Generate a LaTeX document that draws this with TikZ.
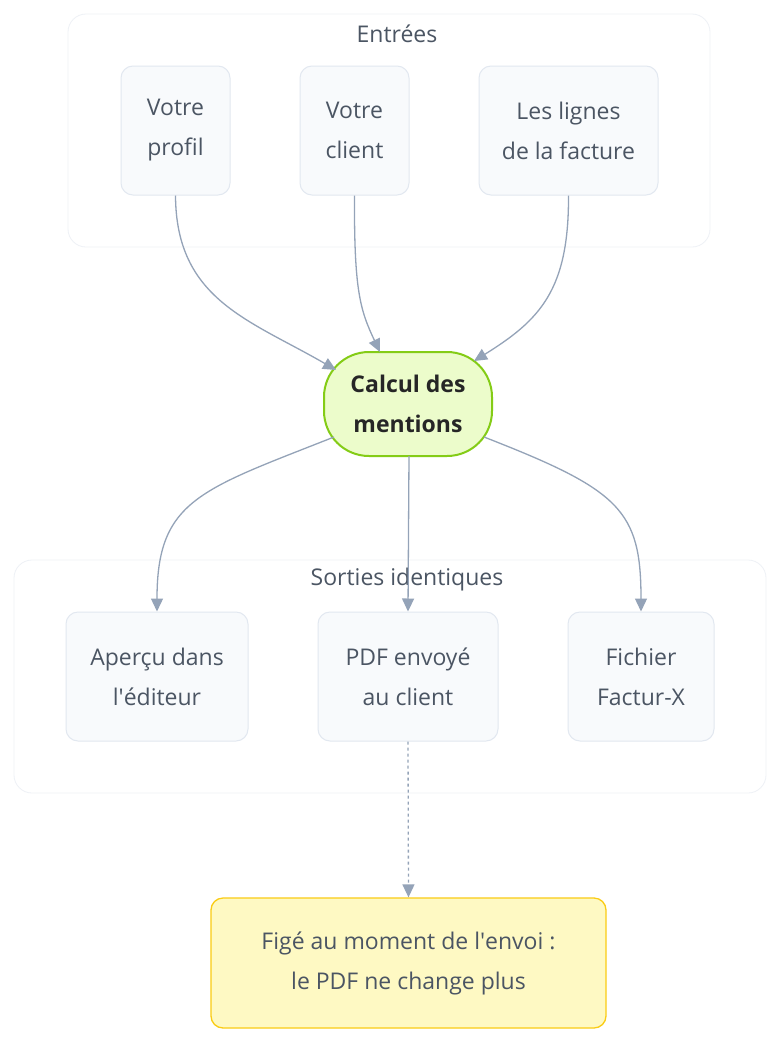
\documentclass[tikz,border=0pt]{standalone}
\usepackage{fontspec}
\setmainfont[Mapping=]{Open Sans}
\usetikzlibrary{arrows.meta}
\definecolor{txt}{HTML}{4B5563}
\definecolor{edge}{HTML}{94A3B8}
\definecolor{bfill}{HTML}{F8FAFC}
\definecolor{bdraw}{HTML}{E2E8F0}
\definecolor{gfill}{HTML}{ECFCCB}
\definecolor{gdraw}{HTML}{84CC16}
\definecolor{yfill}{HTML}{FEF9C3}
\definecolor{ydraw}{HTML}{FACC15}
\begin{document}
\begin{tikzpicture}[x=1pt,y=-1pt,
  cluster/.style={draw=bdraw!60,fill=white,rounded corners=18pt,line width=0.8pt},
  box/.style={draw=bdraw,fill=bfill,rounded corners=12pt,line width=1pt,align=center,text=txt,font=\fontsize{23}{40}\selectfont},
  lbl/.style={text=txt,font=\fontsize{23}{26}\selectfont},
  arr/.style={draw=edge,line width=1.3pt,-{Triangle[length=13pt,width=12pt]}}]
\useasboundingbox (0,0) rectangle (780,1042);
\fill[white] (0,0) rectangle (780,1042);
\draw[cluster] (68,14) rectangle (710,247);
\node[lbl] (tin) at (397,34) {Entrées};
\draw[cluster] (14,560) rectangle (766,793);
\node[lbl] (tout) at (407,580) {Sorties identiques};
\node[box,minimum width=109pt,minimum height=129pt] (p) at (175.5,130.5) {Votre\\profil};
\node[box,minimum width=109pt,minimum height=129pt] (c) at (354.5,130.5) {Votre\\client};
\node[box,minimum width=179pt,minimum height=129pt] (l) at (568.5,130.5) {Les lignes\\de la facture};
\node[draw=gdraw,fill=gfill,line width=2pt,rounded corners=45pt,minimum width=168pt,minimum height=104pt,align=center,font=\fontsize{23}{40}\selectfont\bfseries,text=black!85] (m) at (408,404) {Calcul des\\mentions};
\node[box,minimum width=182pt,minimum height=129pt] (a) at (157,676.5) {Aperçu dans\\l\textquotesingle éditeur};
\node[box,minimum width=180pt,minimum height=129pt] (d) at (408,676.5) {PDF envoyé\\au client};
\node[box,minimum width=146pt,minimum height=129pt] (f) at (641,676.5) {Fichier\\Factur-X};
\node[box,draw=ydraw,fill=yfill,line width=1.3pt,minimum width=395pt,minimum height=130pt] (g) at (408.5,963) {Figé au moment de l\textquotesingle envoi :\\le PDF ne change plus};
\draw[arr] (p.south) .. controls (176,300) and (250,320) .. (336,370);
\draw[arr] (c.south) .. controls (354,290) and (360,310) .. (380,352);
\draw[arr] (l.south) .. controls (569,290) and (540,320) .. (474,361);
\draw[arr] (334,437) .. controls (200,490) and (157,500) .. (a.north);
\draw[arr] (409,456) -- (d.north);
\draw[arr] (484,437) .. controls (620,490) and (641,510) .. (f.north);
\draw[arr,dash pattern=on 3pt off 3pt] (d.south) -- (g.north);
\end{tikzpicture}
\end{document}
